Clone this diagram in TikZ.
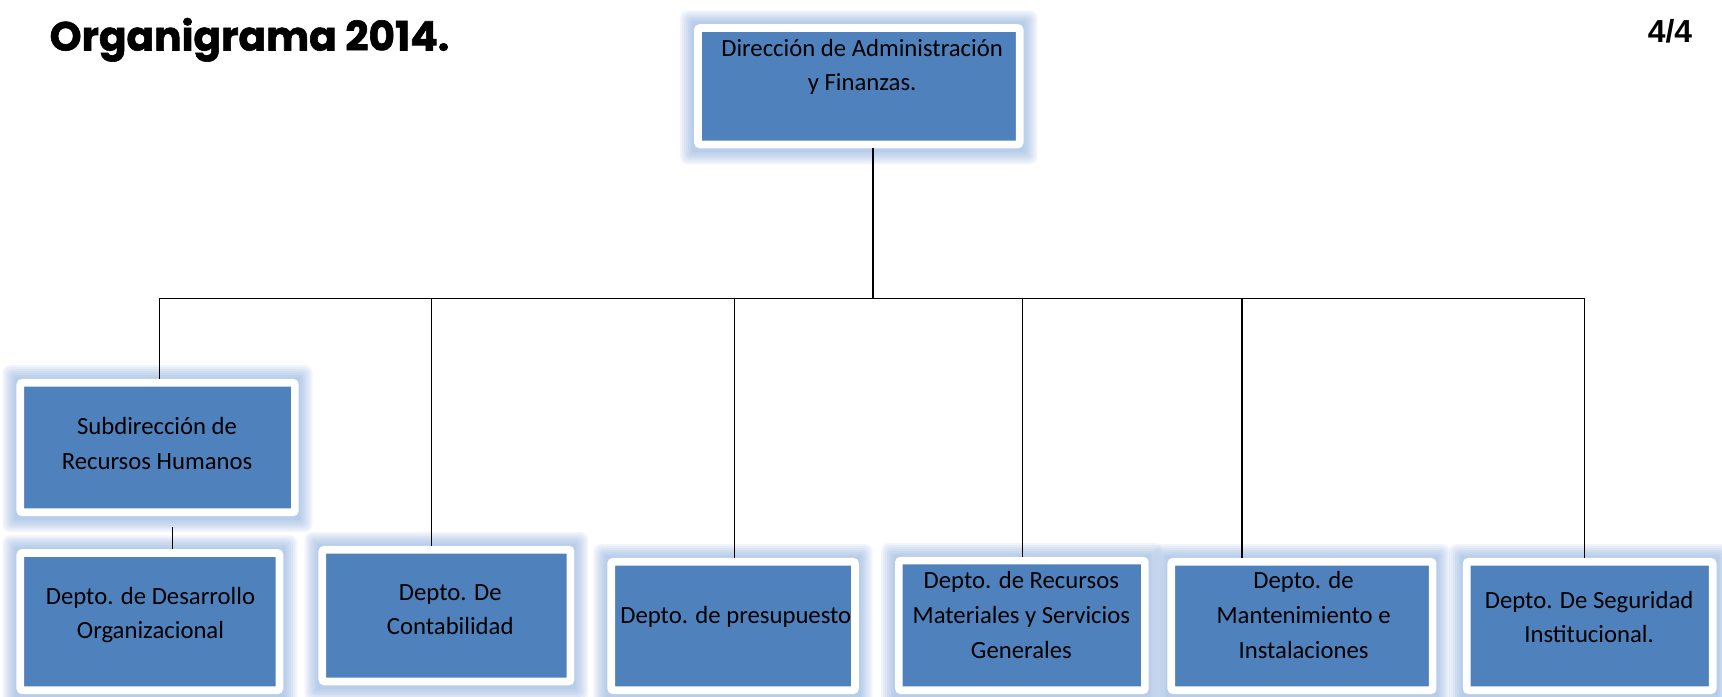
\documentclass[tikz,border=0pt]{standalone}
\usepackage{fontspec}
\setmainfont{Carlito}
\newfontfamily\titlefont[BoldFeatures={FakeBold=1.5}]{Poppins}
\newfontfamily\pagefont{Liberation Sans}
\usetikzlibrary{calc,backgrounds}
\definecolor{boxblue}{RGB}{79,129,189}
\definecolor{glowc}{RGB}{135,172,222}
\tikzset{
  orgbox/.style={draw=white, line width=7pt, fill=boxblue, inner sep=0pt, rounded corners=2pt},
  orgtext/.style={align=center, font=\fontsize{22.5}{31.5}\selectfont, text=black, inner sep=0pt},
  conn/.style={draw=black, line width=1.3pt},
}
\newcommand\glowbox[1]{%
  \foreach \k in {1,...,7}{%
    \fill[glowc,opacity=0.11,rounded corners=\k pt]
      ([shift={(-\k*1.8pt,\k*1.8pt)}]#1.north west) rectangle
      ([shift={(\k*1.8pt,-\k*1.8pt-2pt)}]#1.south east);}}
\begin{document}
\begin{tikzpicture}[x=1pt,y=-1pt]
\useasboundingbox (0,0) rectangle (1568,634.6);
\begin{scope}[on background layer]
  \fill[white] (0,0) rectangle (1568,634.6);
\end{scope}

% title and page number
\node[anchor=base west, inner sep=0pt, font=\titlefont\bfseries\fontsize{37}{40}\selectfont] (title) at (45,46) {Organigrama 2014.};
\node[anchor=base east, inner sep=0pt, font=\pagefont\bfseries\fontsize{29}{32}\selectfont] (page) at (1541,39) {4/4};

% boxes
\node[orgbox, minimum width=293pt, minimum height=106pt] (top) at (782,78.5) {};
\node[orgbox, minimum width=250pt, minimum height=118pt] (sub) at (143.5,407.5) {};
\node[orgbox, minimum width=236pt, minimum height=125pt] (dd) at (136.5,566) {};
\node[orgbox, minimum width=226pt, minimum height=120pt] (cont) at (406.5,560.5) {};
\node[orgbox, minimum width=222pt, minimum height=117pt] (pres) at (667.5,570) {};
\node[orgbox, minimum width=224pt, minimum height=118pt] (rm) at (930.5,569.5) {};
\node[orgbox, minimum width=238pt, minimum height=117pt] (mant) at (1185.5,570) {};
\node[orgbox, minimum width=224pt, minimum height=117pt] (seg) at (1447.5,570) {};

% texts
\node[orgtext] (topT) at (785,61) {Dirección de Administración\\y Finanzas.};
\node[orgtext] (subT) at (143,404) {Subdirección de\\Recursos Humanos};
\node[orgtext] (ddT) at (137,560) {Depto. de Desarrollo\\Organizacional};
\node[orgtext] (contT) at (410,555) {Depto. De\\Contabilidad};
\node[orgtext] (presT) at (670,562) {Depto. de presupuesto};
\node[orgtext] (rmT) at (930,560) {Depto. de Recursos\\Materiales y Servicios\\Generales};
\node[orgtext] (mantT) at (1187,560) {Depto. de\\Mantenimiento e\\Instalaciones};
\node[orgtext] (segT) at (1447,562) {Depto. De Seguridad\\Institucional.};

% glow
\begin{scope}[on background layer]
  \foreach \n in {top,sub,dd,cont,pres,rm,mant,seg}{\glowbox{\n}}
\end{scope}

% connectors
\coordinate (bus) at (795,272);
\coordinate (b1) at (145,272);
\coordinate (b2) at (393,272);
\coordinate (b3) at (669,272);
\coordinate (b4) at (931,272);
\coordinate (b5) at (1131,272);
\coordinate (b6) at (1443,272);
\coordinate (s1) at (157,480);
\draw[conn] (top.south -| bus) -- (bus);
\draw[conn] (b1) -- (b6);
\draw[conn] (b1) -- (b1 |- sub.north);
\draw[conn] (b2) -- (b2 |- cont.north);
\draw[conn] (b3) -- (b3 |- pres.north);
\draw[conn] (b4) -- (b4 |- rm.north);
\draw[conn] (b5) -- (b5 |- mant.north);
\draw[conn] (b6) -- (b6 |- seg.north);
\draw[conn] (s1) -- (s1 |- dd.north);
\end{tikzpicture}
\end{document}
